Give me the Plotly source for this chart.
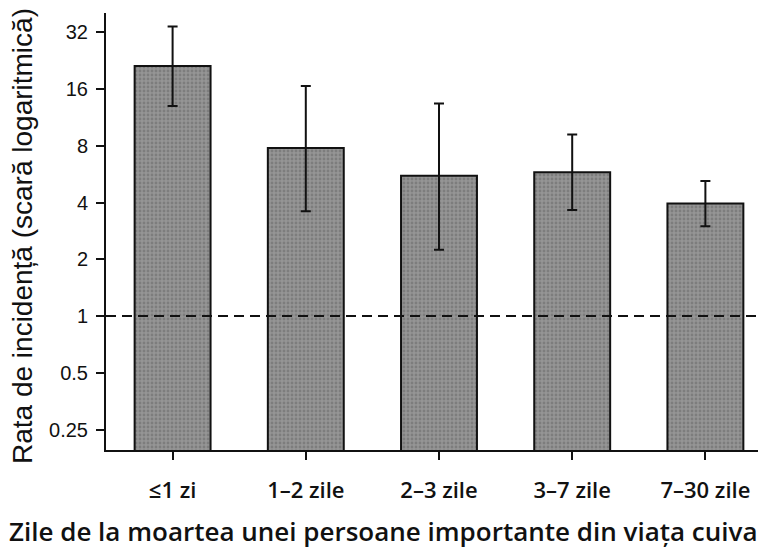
import plotly.graph_objects as go
import math

categories = ["≤1 zi", "1–2 zile", "2–3 zile", "3–7 zile", "7–30 zile"]
rates = [21.2, 7.8, 5.55, 5.8, 3.95]
ci_upper = [34.3, 16.6, 13.4, 9.2, 5.2]
ci_lower = [13.0, 3.6, 2.25, 3.65, 3.0]
y_tick_vals = [0.25, 0.5, 1, 2, 4, 8, 16, 32]
y_tick_text = ["0.25", "0.5", "1", "2", "4", "8", "16", "32"]
reference_value = 1
x_title = "Zile de la moartea unei persoane importante din viața cuiva"
y_title = "Rata de incidență (scară logaritmică)"

err_plus = [u - r for u, r in zip(ci_upper, rates)]
err_minus = [r - l for l, r in zip(ci_lower, rates)]

# page body has an 8px margin; figure is laid out relative to that offset
OFF = 8
PL, PT, PW, PH = 106 - OFF, 13 - OFF, 660, 437

fig = go.Figure()
fig.add_trace(go.Bar(
    x=list(range(len(categories))),
    y=rates,
    width=0.57,
    marker=dict(color="#8a8a8a", line=dict(color="#111111", width=2),
                pattern=dict(shape=".", fgcolor="#666666", bgcolor="#959595", size=4, solidity=0.4)),
    error_y=dict(type="data", symmetric=False, array=err_plus, arrayminus=err_minus,
                 color="#111111", thickness=2, width=5),
    showlegend=False,
))

fig.add_shape(type="line", xref="paper", yref="y", x0=0, x1=1,
              y0=reference_value, y1=reference_value,
              line=dict(color="#111111", width=2, dash="10px,6px"), layer="above")

fig.add_annotation(text=y_title, xref="paper", yref="paper",
                   x=(22 - 106) / PW, y=(450 - 236) / PH, textangle=-90,
                   xanchor="center", yanchor="middle", showarrow=False,
                   font=dict(family="Liberation Sans", size=28, color="#111111"))
fig.add_annotation(text=x_title, xref="paper", yref="paper",
                   x=(383 - 106) / PW, y=(450 - 531) / PH,
                   xanchor="center", yanchor="middle", showarrow=False,
                   font=dict(family="Open Sans", size=26, color="#111111", weight=600))

fig.update_layout(
    width=766 - OFF, height=548 - OFF,
    margin=dict(l=PL, r=0, t=PT, b=548 - OFF - PT - PH),
    paper_bgcolor="white", plot_bgcolor="white",
)
fig.update_xaxes(
    range=[-0.5, 4.455], automargin=False,
    tickvals=list(range(len(categories))), ticktext=categories,
    showline=True, linecolor="#111111", linewidth=2,
    ticks="outside", ticklen=8, tickwidth=1.5, tickcolor="#111111",
    showgrid=False, zeroline=False,
    tickfont=dict(family="Open Sans", size=22, color="#111111", weight=600),
    ticklabelstandoff=12,
)
fig.update_yaxes(
    type="log", automargin=False,
    range=[math.log10(0.195), math.log10(40.5)],
    tickvals=y_tick_vals, ticktext=y_tick_text,
    showline=True, linecolor="#111111", linewidth=2,
    ticks="outside", ticklen=8, tickwidth=1.5, tickcolor="#111111",
    showgrid=False, zeroline=False,
    tickfont=dict(family="Liberation Sans", size=20, color="#111111"),
    ticklabelstandoff=4,
)

fig.write_html("out.html")
